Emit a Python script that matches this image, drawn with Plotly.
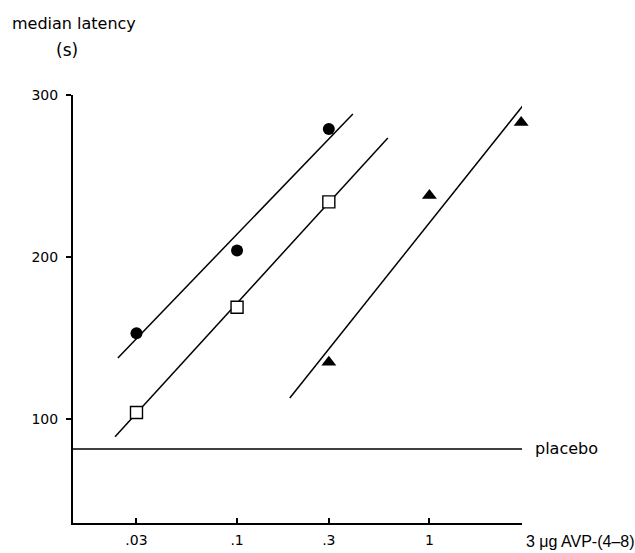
import math
import plotly.graph_objects as go

# Data
dose_ticks = [0.03, 0.1, 0.3, 1, 3]
dose_tick_text = [".03", ".1", ".3", "1", ""]

circle_x = [0.03, 0.1, 0.3]
circle_y = [153, 204, 279]
square_x = [0.03, 0.1, 0.3]
square_y = [104, 169, 234]
triangle_x = [0.3, 1, 3]
triangle_y = [135, 238, 283]

# fitted lines (end points)
circle_fit_x = [0.0240, 0.400]
circle_fit_y = [137.7, 288.3]
square_fit_x = [0.0232, 0.608]
square_fit_y = [89, 273.5]
triangle_fit_x = [0.188, 3.17]
triangle_fit_y = [113, 295.7]

placebo_x = [0.01403, 3.03]
placebo_y = [81.5, 81.5]

x_range = [math.log10(0.01403), math.log10(3.03)]
y_range = [35.8, 300]

FONT = "DejaVu Sans"
fig = go.Figure()

line_style = dict(color="black", width=1.5)
for fx, fy in [(circle_fit_x, circle_fit_y), (square_fit_x, square_fit_y),
               (triangle_fit_x, triangle_fit_y), (placebo_x, placebo_y)]:
    fig.add_trace(go.Scatter(x=fx, y=fy, mode="lines", line=line_style,
                             showlegend=False, hoverinfo="skip"))

fig.add_trace(go.Scatter(x=circle_x, y=circle_y, mode="markers",
                         marker=dict(symbol="circle", size=12, color="black"),
                         cliponaxis=False, showlegend=False))
fig.add_trace(go.Scatter(x=square_x, y=square_y, mode="markers",
                         marker=dict(symbol="square", size=12, color="white",
                                     line=dict(color="black", width=1.4)),
                         cliponaxis=False, showlegend=False))
fig.add_trace(go.Scatter(x=triangle_x, y=triangle_y, mode="markers",
                         marker=dict(symbol="triangle-up", size=13, color="black"),
                         cliponaxis=False, showlegend=False))

fig.update_layout(
    width=635, height=553,
    margin=dict(l=73, r=113, t=95, b=30),
    paper_bgcolor="white", plot_bgcolor="white",
    font=dict(family=FONT, size=14, color="black"),
    xaxis=dict(type="log", range=x_range, tickvals=dose_ticks, ticktext=dose_tick_text,
               ticks="inside", ticklen=5, tickcolor="black", tickwidth=1.5,
               showline=True, linecolor="black", linewidth=2, showgrid=False,
               zeroline=False, ticklabelstandoff=3, automargin=False,
               tickfont=dict(family=FONT, size=14)),
    yaxis=dict(range=y_range, tickvals=[100, 200, 300], ticks="outside", ticklen=5,
               tickcolor="black", tickwidth=1.5, showline=True, linecolor="black",
               linewidth=2, showgrid=False, zeroline=False, ticklabelstandoff=5,
               automargin=False, tickfont=dict(family=FONT, size=14)),
    annotations=[
        dict(text="median latency", xref="paper", yref="paper", x=-0.140, y=1.168,
             xanchor="left", yanchor="middle", showarrow=False,
             font=dict(family=FONT, size=16)),
        dict(text="(s)", xref="paper", yref="paper", x=-0.0134, y=1.105,
             xanchor="center", yanchor="middle", showarrow=False,
             font=dict(family=FONT, size=17)),
        dict(text="placebo", x=math.log10(3.03), y=81.5, xref="x", yref="y",
             xanchor="left", yanchor="middle", xshift=11, showarrow=False,
             font=dict(family=FONT, size=16)),
        dict(text="3 \u03bcg AVP-(4\u20138)", x=math.log10(3), y=0, xref="x", yref="paper",
             xanchor="left", yanchor="top", xshift=3, yshift=-8, showarrow=False,
             font=dict(family="Liberation Sans", size=16)),
    ],
)

fig.write_html("out.html", config={"displayModeBar": False},
               post_script="document.body.style.margin='0';document.body.style.overflow='hidden';")
